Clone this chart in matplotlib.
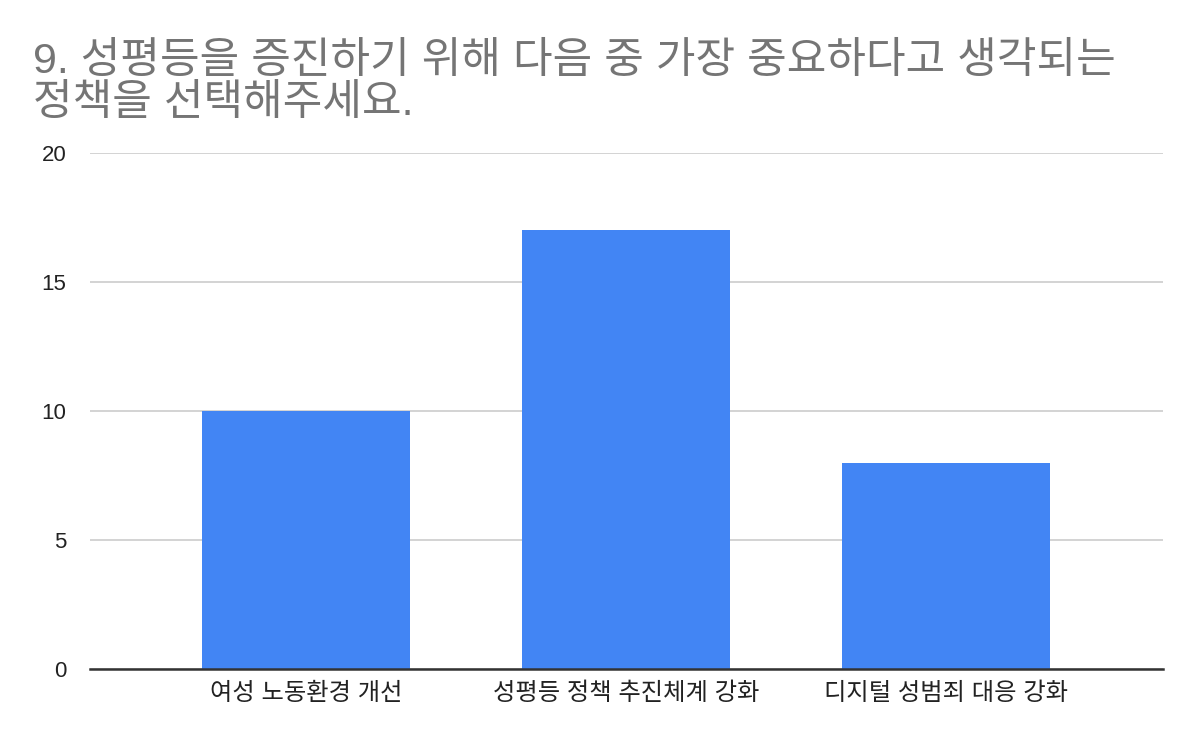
import matplotlib
matplotlib.use("Agg")
import matplotlib.pyplot as plt

# data
title = "9. 성평등을 증진하기 위해 다음 중 가장 중요하다고 생각되는\n정책을 선택해주세요."
categories = ["여성 노동환경 개선", "성평등 정책 추진체계 강화", "디지털 성범죄 대응 강화"]
counts = [10, 17, 8]
yticks = [0, 5, 10, 15, 20]

plt.rcParams['font.family'] = ['Liberation Sans', 'Noto Sans CJK KR', 'DejaVu Sans']

fig = plt.figure(figsize=(12, 7.42), dpi=100)
ax = fig.add_axes([90 / 1200, 1 - 669 / 742, 1073 / 1200, 516 / 742])

x = range(len(categories))
ax.bar(x, counts, width=0.65, color="#4285f4", zorder=3)

ax.set_xlim(-0.675, 2.678)
ax.set_ylim(0, 20)
ax.set_yticks(yticks)
ax.set_xticks(list(x))
ax.set_xticklabels(categories)
ax.grid(axis="y", color="#cccccc", linewidth=1.2, zorder=0)

for s in ["top", "right", "left"]:
    ax.spines[s].set_visible(False)
ax.spines["bottom"].set_color("#333333")
ax.spines["bottom"].set_linewidth(1.8)
ax.spines["bottom"].set_zorder(4)

ax.tick_params(axis="both", length=0, colors="#222222")
ax.tick_params(axis="y", pad=17, labelsize=16)
ax.tick_params(axis="x", pad=10, labelsize=17.5)

fig.text(33 / 1200, 1 - 42 / 742, title, fontsize=31, color="#757575",
         va="top", ha="left", linespacing=1.05)

fig.savefig("out.png", dpi=100, facecolor="white")
